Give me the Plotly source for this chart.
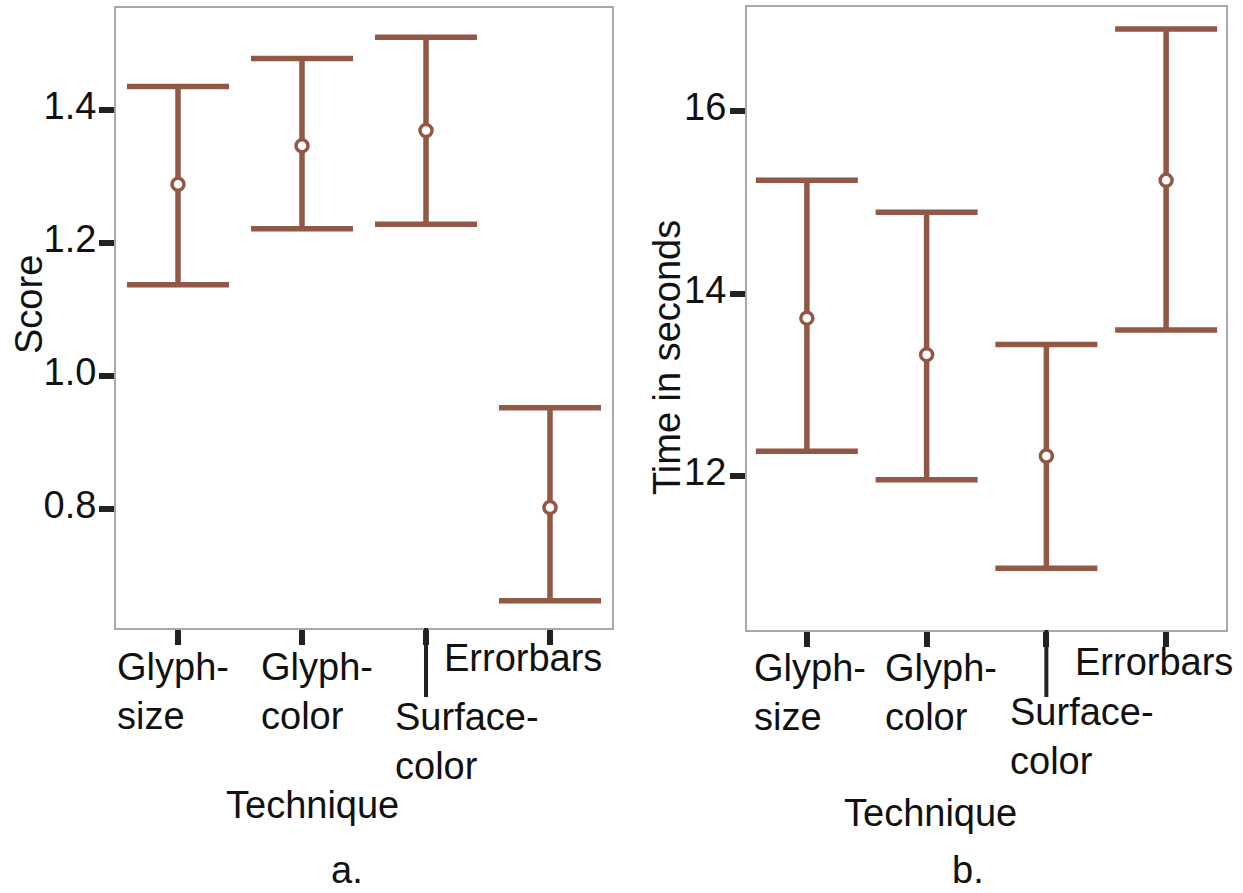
import plotly.graph_objects as go

# ---- data ----
techniques = ["Glyph-size", "Glyph-color", "Surface-color", "Errorbars"]
tick_labels = ["Glyph-<br>size", "Glyph-<br>color", "Surface-<br>color", "Errorbars"]
positions = [1, 2, 3, 4]

score_mean = [1.288, 1.346, 1.369, 0.802]
score_upper = [1.435, 1.477, 1.509, 0.952]
score_lower = [1.137, 1.221, 1.228, 0.662]

time_mean = [13.73, 13.33, 12.22, 15.24]
time_upper = [15.24, 14.89, 13.44, 16.90]
time_lower = [12.27, 11.96, 10.99, 13.60]

score_ticks = [0.8, 1.0, 1.2, 1.4]
time_ticks = [12, 14, 16]

W, H = 1243, 893
BROWN = "#935746"
FONT = "Liberation Sans, Arial, sans-serif"
FS = 38

fig = go.Figure()


def add_panel(mean, upper, lower, xa, ya):
    fig.add_trace(go.Scatter(
        x=positions, y=mean, mode="markers",
        xaxis=xa, yaxis=ya,
        marker=dict(symbol="circle", size=12, color="white",
                    line=dict(color=BROWN, width=3.5)),
        error_y=dict(type="data", symmetric=False,
                     array=[u - m for u, m in zip(upper, mean)],
                     arrayminus=[m - l for m, l in zip(mean, lower)],
                     color=BROWN, thickness=5.5, width=51),
        showlegend=False, hoverinfo="skip",
    ))


add_panel(score_mean, score_upper, score_lower, "x", "y")
add_panel(time_mean, time_upper, time_lower, "x2", "y2")

axis_common = dict(showline=True, mirror=True, linecolor="#a8a8a8", linewidth=2,
                   showgrid=False, zeroline=False, ticks="outside", ticklen=15,
                   tickwidth=6, tickcolor="#222222",
                   tickfont=dict(family=FONT, size=FS, color="#111111"))

fig.update_layout(
    width=W, height=H,
    margin=dict(l=0, r=0, t=0, b=0),
    paper_bgcolor="white", plot_bgcolor="white",
    xaxis=dict(domain=[116 / W, 612 / W], range=[0.5, 4.5], tickvals=positions,
               showticklabels=False, anchor="y", **axis_common),
    yaxis=dict(domain=[1 - 628 / H, 1 - 8 / H], range=[0.621, 1.553],
               tickvals=score_ticks, ticktext=[f"{v:.1f}" for v in score_ticks],
               ticklabelstandoff=-5, ticklabelshift=-4,
               anchor="x", **axis_common),
    xaxis2=dict(domain=[747 / W, 1226 / W], range=[0.5, 4.5], tickvals=positions,
                showticklabels=False, anchor="y2", **axis_common),
    yaxis2=dict(domain=[1 - 630 / H, 1 - 7 / H], range=[10.312, 17.14],
                tickvals=time_ticks, ticktext=[str(v) for v in time_ticks],
                ticklabelstandoff=-4, ticklabelshift=-4,
                anchor="x2", **axis_common),
)

# longer tick for the Surface-color category
for xr, ybot, yend in [("x", 628, 697), ("x2", 630, 697)]:
    fig.add_shape(type="line", xref=xr, yref="paper",
                  x0=positions[2], x1=positions[2],
                  y0=1 - ybot / H, y1=1 - yend / H,
                  line=dict(color="#222222", width=4))

# category labels (staggered as in the reference)
label_left_px = [[115, 259, 393, 442], [752, 883, 1008, 1073]]
label_top_px = [[652, 652, 702, 643], [653, 653, 697, 647]]
for p in range(2):
    for i, t in enumerate(tick_labels):
        fig.add_annotation(
            text=t, xref="paper", yref="paper",
            x=label_left_px[p][i] / W, y=1 - (label_top_px[p][i] - 8) / H,
            xanchor="left", yanchor="top", align="left", showarrow=False,
            font=dict(family=FONT, size=FS, color="#111111"))

# axis titles
texts = [
    ("Score", 29, 305, -90),
    ("Time in seconds", 667, 357, -90),
    ("Technique", 312, 805, 0),
    ("Technique", 930, 813, 0),
]
for t, px, py, ang in texts:
    fig.add_annotation(text=t, xref="paper", yref="paper", x=px / W, y=1 - py / H,
                       xanchor="center", yanchor="middle", textangle=ang,
                       showarrow=False,
                       font=dict(family=FONT, size=FS, color="#111111"))

# panel captions, sitting on the bottom edge
for t, px in [("a.", 347), ("b.", 968)]:
    fig.add_annotation(text=t, xref="paper", yref="paper", x=px / W, y=0,
                       xanchor="center", yanchor="bottom", showarrow=False,
                       font=dict(family=FONT, size=FS, color="#111111"))

fig.write_html("out.html")
